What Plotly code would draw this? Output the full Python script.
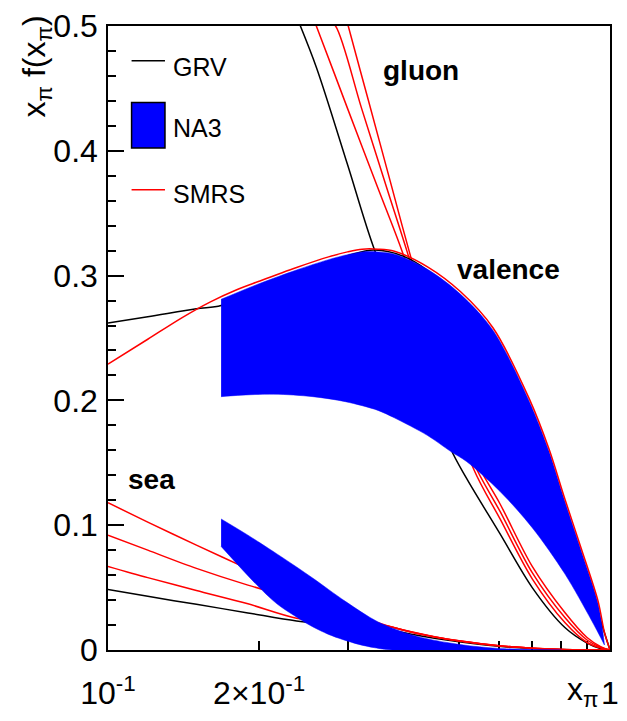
import plotly.graph_objects as go

# ---------------- data ----------------
# valence
val_smrs_x = [0.1, 0.12, 0.14, 0.16, 0.18, 0.2, 0.2375, 0.275, 0.30, 0.321, 0.345, 0.372, 0.433, 0.504, 0.585, 0.691, 0.756, 0.813, 0.877, 0.947, 0.975, 1.0]
val_smrs_y = [0.229, 0.249, 0.266, 0.279, 0.2885, 0.2955, 0.3065, 0.315, 0.319, 0.3212, 0.3212, 0.3195, 0.307, 0.287, 0.258, 0.201, 0.161, 0.121, 0.081, 0.039, 0.014, 0.0]
val_grv_x = [0.1, 0.12, 0.15, 0.168, 0.2, 0.25, 0.3, 0.34, 0.4, 0.5, 0.6, 0.7, 0.8, 0.9, 0.95, 1.0]
val_grv_y = [0.262, 0.267, 0.2735, 0.276, 0.289, 0.305, 0.316, 0.3205, 0.313, 0.282, 0.244, 0.190, 0.124, 0.060, 0.028, 0.0]
val_na3_top_x = [0.168, 0.2, 0.2375, 0.275, 0.30, 0.321, 0.345, 0.372, 0.433, 0.504, 0.585, 0.691, 0.756, 0.813, 0.877, 0.947, 0.975]
val_na3_top_y = [0.281, 0.2935, 0.3045, 0.3128, 0.3168, 0.319, 0.319, 0.3172, 0.305, 0.285, 0.256, 0.199, 0.159, 0.119, 0.079, 0.037, 0.004]
val_na3_bot_x = [0.168, 0.181, 0.214, 0.256, 0.297, 0.345, 0.372, 0.4325, 0.482, 0.518, 0.604, 0.700, 0.813, 0.918, 0.975]
val_na3_bot_y = [0.203, 0.204, 0.205, 0.203, 0.199, 0.192, 0.186, 0.172, 0.159, 0.151, 0.127, 0.098, 0.061, 0.024, 0.004]

# gluon
glu_grv_x = [0.235, 0.26, 0.30, 0.34, 0.40, 0.45, 0.482, 0.518, 0.604, 0.70, 0.813, 0.90, 0.96, 1.0]
glu_grv_y = [0.512, 0.467, 0.389, 0.320, 0.254, 0.200, 0.161, 0.1375, 0.093, 0.050, 0.018, 0.0056, 0.001, 0.0]
glu_smrs1_x = [0.25, 0.26, 0.30, 0.345, 0.385, 0.46, 0.535, 0.604, 0.70, 0.813, 0.9, 0.96, 1.0]
glu_smrs1_y = [0.517, 0.5, 0.434, 0.370, 0.320, 0.225, 0.145, 0.105, 0.057, 0.022, 0.006, 0.0015, 0.0]
glu_smrs2_x = [0.275, 0.284, 0.32, 0.36, 0.394, 0.46, 0.535, 0.604, 0.70, 0.813, 0.9, 0.96, 1.0]
glu_smrs2_y = [0.504, 0.5, 0.434, 0.369, 0.3196, 0.228, 0.150, 0.111, 0.062, 0.026, 0.008, 0.002, 0.0]
glu_smrs3_x = [0.295, 0.301, 0.33, 0.365, 0.399, 0.46, 0.535, 0.604, 0.70, 0.813, 0.9, 0.96, 1.0]
glu_smrs3_y = [0.514, 0.5, 0.4407, 0.3755, 0.318, 0.232, 0.155, 0.117, 0.067, 0.030, 0.010, 0.0025, 0.0]

# sea
sea_x = [0.1, 0.12, 0.15, 0.19, 0.2375, 0.3, 0.36, 0.4, 0.45, 0.5, 0.6, 0.7, 0.8, 0.9, 1.0]
sea_smrs1_y = [0.118, 0.1025, 0.084, 0.065, 0.047, 0.030, 0.0195, 0.0148, 0.0105, 0.0075, 0.0035, 0.0015, 0.0005, 0.0001, 0.0]
sea_smrs2_y = [0.092, 0.080, 0.0654, 0.052, 0.041, 0.026, 0.0193, 0.0146, 0.0103, 0.0074, 0.0034, 0.0014, 0.0005, 0.0001, 0.0]
sea_smrs3_y = [0.067, 0.058, 0.0477, 0.037, 0.0255, 0.021, 0.019, 0.0145, 0.0102, 0.0073, 0.0034, 0.0014, 0.0005, 0.0001, 0.0]
sea_grv_y = [0.0485, 0.043, 0.0366, 0.0297, 0.0232, 0.019, 0.0165, 0.0128, 0.0092, 0.0066, 0.0030, 0.0012, 0.0004, 0.0001, 0.0]
sea_na3_top_x = [0.168, 0.19, 0.217, 0.2375, 0.256, 0.297, 0.345, 0.40, 0.427, 0.473, 0.535, 0.6, 0.7, 0.8]
sea_na3_top_y = [0.105, 0.092, 0.077, 0.0665, 0.0575, 0.039, 0.0225, 0.0125, 0.0095, 0.006, 0.003, 0.0013, 0.0004, 0.0]
sea_na3_bot_x = [0.168, 0.198, 0.217, 0.234, 0.252, 0.275, 0.293, 0.316, 0.34, 0.368, 0.8]
sea_na3_bot_y = [0.083, 0.052, 0.037, 0.028, 0.020, 0.0125, 0.0085, 0.0045, 0.0018, 0.0, 0.0]

# axes
x_tickvals = [0.1, 0.2, 1.0]
x_ticktext = ["10<sup>-1</sup>", "2\u00d710<sup>-1</sup>", "1"]
x_minorvals = [0.3, 0.4, 0.5, 0.6, 0.7, 0.8, 0.9]
y_tickvals = [0, 0.1, 0.2, 0.3, 0.4, 0.5]
y_ticktext = ["0", "0.1", "0.2", "0.3", "0.4", "0.5"]

BLACK = "#000000"
RED = "#ff0000"
BLUE = "#0000ff"
FONT = "Liberation Sans, Arial, sans-serif"
SMOOTH = 0.9

fig = go.Figure()

def line(x, y, color, w=1.5):
    fig.add_trace(go.Scatter(x=x, y=y, mode="lines",
                             line=dict(color=color, width=w, shape="spline", smoothing=SMOOTH),
                             showlegend=False, hoverinfo="skip"))

def band(tx, ty, bx, by):
    # lower edge, then upper edge filled down to it
    fig.add_trace(go.Scatter(x=bx, y=by, mode="lines",
                             line=dict(color=BLUE, width=0.5, shape="spline", smoothing=SMOOTH),
                             showlegend=False, hoverinfo="skip"))
    fig.add_trace(go.Scatter(x=tx, y=ty, mode="lines", fill="tonexty", fillcolor=BLUE,
                             line=dict(color=BLUE, width=0.5, shape="spline", smoothing=SMOOTH),
                             showlegend=False, hoverinfo="skip"))

# curves underneath the NA3 bands
line(glu_grv_x, glu_grv_y, BLACK)
line(glu_smrs1_x, glu_smrs1_y, RED)
line(glu_smrs2_x, glu_smrs2_y, RED)
line(glu_smrs3_x, glu_smrs3_y, RED)
line(sea_x, sea_grv_y, BLACK)
line(sea_x, sea_smrs3_y, RED)
line(sea_x, sea_smrs2_y, RED)
line(sea_x, sea_smrs1_y, RED)
line(val_grv_x, val_grv_y, BLACK)

band(val_na3_top_x, val_na3_top_y, val_na3_bot_x, val_na3_bot_y)
band(sea_na3_top_x, sea_na3_top_y, sea_na3_bot_x, sea_na3_bot_y)

line(val_smrs_x, val_smrs_y, RED)

# ---------------- layout ----------------
L, R, T, B = 108, 8, 21, 71
W, H = 627, 721
pw, ph = W - L - R, H - T - B

def px(xpix):
    return (xpix - L) / pw

def py(ypix):
    return (H - B - ypix) / ph

shapes = [
    dict(type="line", xref="paper", yref="paper", x0=px(132), x1=px(166), y0=py(56), y1=py(56),
         line=dict(color=BLACK, width=1.5)),
    dict(type="rect", xref="paper", yref="paper", x0=px(132), x1=px(166), y0=py(144), y1=py(98),
         fillcolor=BLUE, line=dict(color=BLACK, width=1.5)),
    dict(type="line", xref="paper", yref="paper", x0=px(132), x1=px(166), y0=py(186), y1=py(186),
         line=dict(color=RED, width=1.5)),
]

annotations = [
    dict(text="GRV", x=px(172), y=py(62), xref="paper", yref="paper", xanchor="left", yanchor="middle",
         showarrow=False, font=dict(family=FONT, size=25, color=BLACK)),
    dict(text="NA3", x=px(172), y=py(124), xref="paper", yref="paper", xanchor="left", yanchor="middle",
         showarrow=False, font=dict(family=FONT, size=25, color=BLACK)),
    dict(text="SMRS", x=px(172), y=py(190), xref="paper", yref="paper", xanchor="left", yanchor="middle",
         showarrow=False, font=dict(family=FONT, size=25, color=BLACK)),
    dict(text="<b>gluon</b>", x=px(427), y=py(66), xref="paper", yref="paper", xanchor="center", yanchor="middle",
         showarrow=False, font=dict(family=FONT, size=28, color=BLACK)),
    dict(text="<b>valence</b>", x=px(516), y=py(266), xref="paper", yref="paper", xanchor="center", yanchor="middle",
         showarrow=False, font=dict(family=FONT, size=28, color=BLACK)),
    dict(text="<b>sea</b>", x=px(152), y=py(478), xref="paper", yref="paper", xanchor="center", yanchor="middle",
         showarrow=False, font=dict(family=FONT, size=28, color=BLACK)),
    dict(text="x<sub>\u03c0</sub> f(x<sub>\u03c0</sub>)", x=px(35), y=py(8), xref="paper", yref="paper",
         xanchor="center", yanchor="top", textangle=-90,
         showarrow=False, font=dict(family=FONT, size=32, color=BLACK)),
    dict(text="x<sub>\u03c0</sub>", x=px(609), y=py(692), xref="paper", yref="paper",
         xanchor="right", yanchor="middle",
         showarrow=False, font=dict(family=FONT, size=32, color=BLACK)),
]

fig.update_layout(
    width=W, height=H,
    margin=dict(l=L, r=R, t=T, b=B, pad=0),
    paper_bgcolor="white", plot_bgcolor="white",
    showlegend=False,
    shapes=shapes, annotations=annotations,
    xaxis=dict(type="log", range=[-1, 0], tickmode="array", tickvals=x_tickvals, ticktext=x_ticktext,
               ticks="inside", ticklen=9, tickwidth=1.5, tickcolor=BLACK,
               minor=dict(tickmode="array", tickvals=x_minorvals, ticks="inside", ticklen=9,
                          tickwidth=1.5, tickcolor=BLACK, showgrid=False),
               showline=True, linecolor=BLACK, linewidth=1.5, mirror=True,
               showgrid=False, zeroline=False, layer="below traces",
               tickfont=dict(family=FONT, size=32, color=BLACK), ticklabelstandoff=14),
    yaxis=dict(range=[0, 0.5], tickmode="array", tickvals=y_tickvals, ticktext=y_ticktext,
               ticks="inside", ticklen=16, tickwidth=1.5, tickcolor=BLACK,
               minor=dict(dtick=0.02, ticks="inside", ticklen=8, tickwidth=1.5, tickcolor=BLACK, showgrid=False),
               showline=True, linecolor=BLACK, linewidth=1.5, mirror=True,
               showgrid=False, zeroline=False,
               tickfont=dict(family=FONT, size=32, color=BLACK), ticklabelstandoff=2),
)

fig.write_html("out.html")
